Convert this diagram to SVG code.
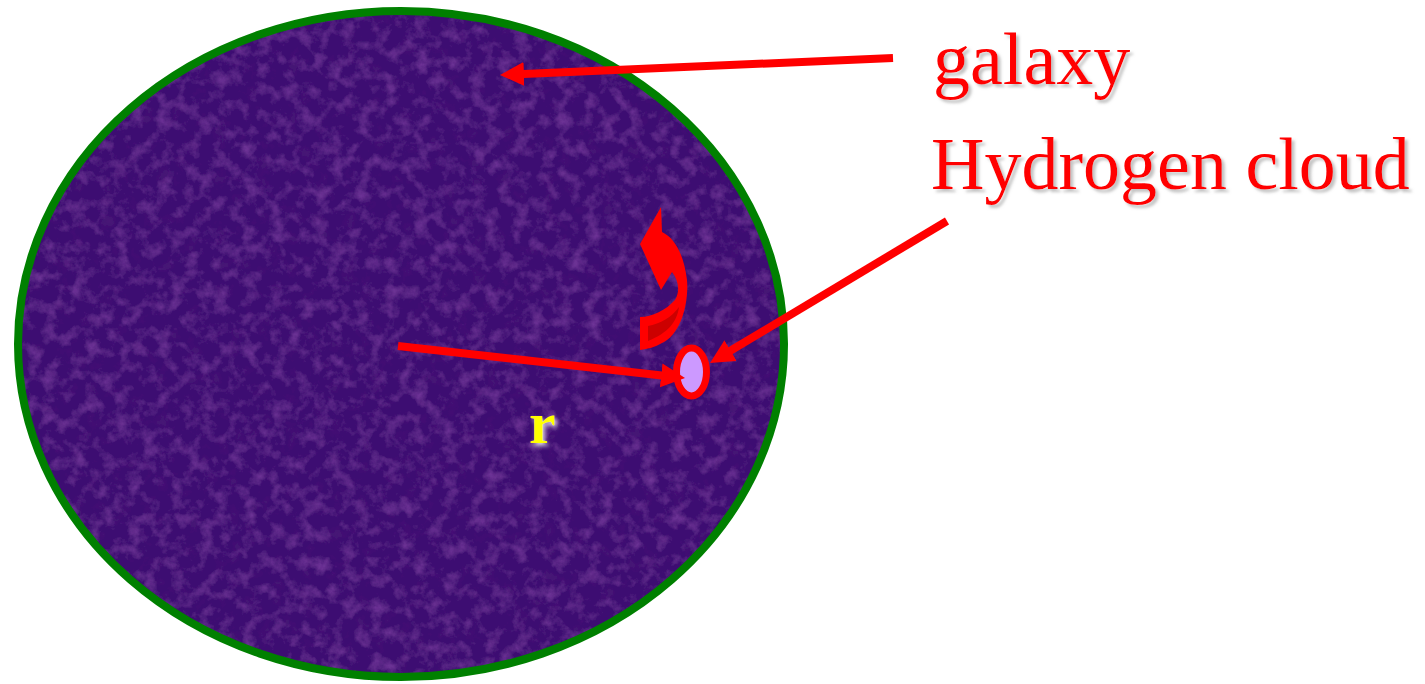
<svg xmlns="http://www.w3.org/2000/svg" width="1425" height="684" viewBox="0 0 1425 684">
  <style>
    .label { font-family: "Liberation Serif", "Times New Roman", serif; font-size: 74px; fill: #ff0000; }
    .conn { stroke: #ff0000; stroke-width: 8; fill: none; }
  </style>
  <defs>
    <marker id="head" markerUnits="userSpaceOnUse" markerWidth="26" markerHeight="26" refX="12" refY="12" orient="auto" viewBox="0 0 26 26">
      <path d="M0,0 L24,12 L0,24 Z" fill="#ff0000"/>
    </marker>
    <filter id="tex" x="0" y="0" width="100%" height="100%">
      <feTurbulence type="fractalNoise" baseFrequency="0.07" numOctaves="4" seed="7" result="n"/>
      <feColorMatrix in="n" type="matrix" values="0 0 0 0 0.40  0 0 0 0 0.10  0 0 0 0 0.62  0.7 0 0 0 -0.33" result="light"/>
      <feColorMatrix in="n" type="matrix" values="0 0 0 0 0.12  0 0 0 0 0.02  0 0 0 0 0.22  0 -0.7 0 0 0.3" result="dark"/>
      <feMerge result="m"><feMergeNode in="SourceGraphic"/><feMergeNode in="light"/><feMergeNode in="dark"/></feMerge>
      <feComposite in="m" in2="SourceGraphic" operator="in"/>
    </filter>
    <filter id="shadow" x="-10%" y="-10%" width="130%" height="140%">
      <feDropShadow dx="3" dy="3" stdDeviation="1.5" flood-color="#999999" flood-opacity="0.6"/>
    </filter>
    <filter id="rshadow" x="-30%" y="-30%" width="180%" height="180%">
      <feDropShadow dx="2" dy="3" stdDeviation="2" flood-color="#ffffff" flood-opacity="0.8"/>
    </filter>
  </defs>

  <g id="galaxy">
    <ellipse cx="401" cy="344" rx="383" ry="333" fill="#3c0c72" filter="url(#tex)"/>
    <ellipse cx="401" cy="344" rx="383" ry="333" fill="none" stroke="#008000" stroke-width="8"/>
  </g>

  <g id="rotation-arrow">
    <path d="M661,207 L662,232 C675,238 684,255 687,280 C689,305 680,335 662,343 C655,347 648,349 640,350 L640,317 C652,317 666,310 675,300 C680,292 679,281 672,272 L661,290 L640,244 Z" fill="#ff0000"/>
    <path d="M648,326 C660,324 672,317 679,307 C677,322 668,333 648,341 Z" fill="#cc0000"/>
  </g>

  <g id="hydrogen-cloud">
    <ellipse cx="691.5" cy="372" rx="15" ry="24" fill="#cc99ff" stroke="#ff0000" stroke-width="7"/>
  </g>

  <g id="connectors">
    <line class="conn" x1="893" y1="58" x2="512" y2="74.5" marker-end="url(#head)"/>
    <line class="conn" x1="947" y1="221" x2="720.3" y2="356.8" marker-end="url(#head)"/>
    <line class="conn" x1="398" y1="346" x2="673.1" y2="376.7" marker-end="url(#head)" stroke-width="7"/>
  </g>

  <g id="labels">
    <text class="label" x="933" y="84" filter="url(#shadow)">galaxy</text>
    <text class="label" x="931" y="189" filter="url(#shadow)">Hydrogen cloud</text>
    <text x="529" y="443" font-family="Liberation Serif, Times New Roman, serif" font-size="60" font-weight="bold" fill="#ffff00" filter="url(#rshadow)">r</text>
  </g>
</svg>
